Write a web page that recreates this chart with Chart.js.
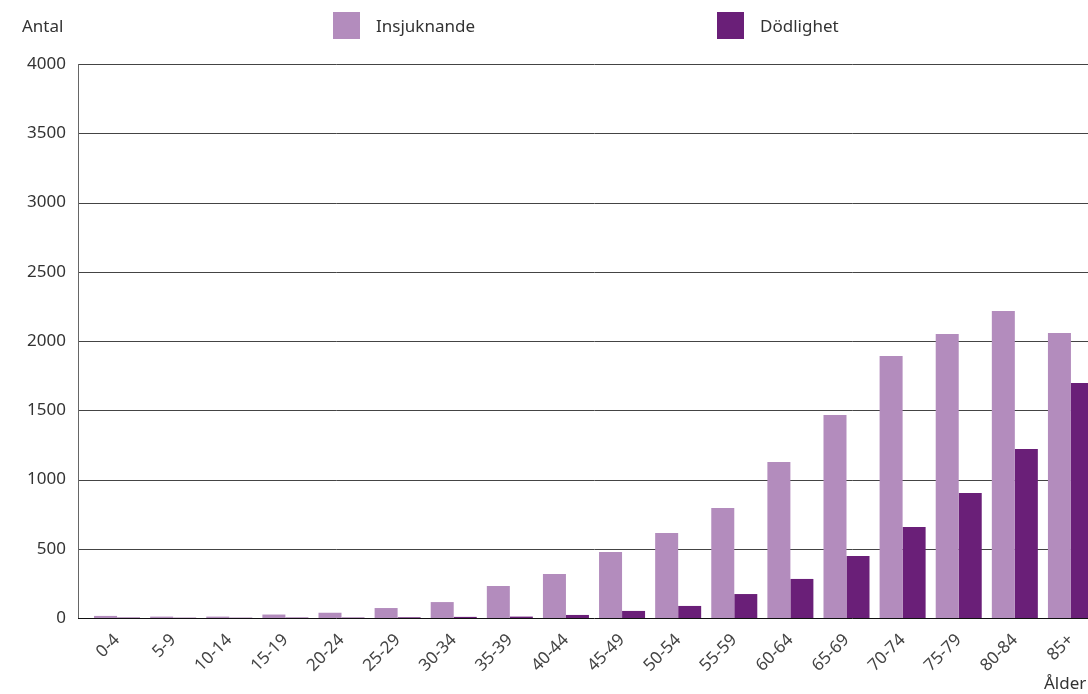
<!DOCTYPE html>
<html>
<head>
<meta charset="utf-8">
<script src="https://cdn.jsdelivr.net/npm/chart.js@4.4.1/dist/chart.umd.min.js"></script>
<style>
  html, body { margin: 0; padding: 0; background: #fff; overflow: hidden; }
  #wrap { position: relative; width: 1110px; height: 694px; }
  .txt { position: absolute; font-family: "Noto Sans", sans-serif; font-size: 17px; color: #333; white-space: nowrap; }
  .box { position: absolute; width: 27px; height: 27px; }
</style>
</head>
<body>
<div id="wrap">
  <canvas id="chart" width="1110" height="694"></canvas>
  <div class="txt" style="left:22px; top:14px;">Antal</div>
  <div class="box" style="left:333px; top:12px; background:#b38cbd;"></div>
  <div class="txt" style="left:376px; top:14px;">Insjuknande</div>
  <div class="box" style="left:717px; top:12px; background:#6a1f78;"></div>
  <div class="txt" style="left:760px; top:14px;">Dödlighet</div>
  <div class="txt" style="left:1044px; top:671px;">Ålder</div>
</div>
<script>
// age groups on the x axis
const ageGroups = ['0-4','5-9','10-14','15-19','20-24','25-29','30-34','35-39','40-44',
  '45-49','50-54','55-59','60-64','65-69','70-74','75-79','80-84','85+'];
// incidence per age group
const insjuknande = [15, 10, 10, 25, 38, 72, 115, 231, 318, 477, 614, 794, 1126, 1466, 1892, 2051, 2217, 2058];
// mortality per age group
const dodlighet = [3, 2, 2, 3, 3, 5, 8, 10, 22, 51, 87, 173, 282, 448, 657, 902, 1220, 1697];
const yTicks = [0, 500, 1000, 1500, 2000, 2500, 3000, 3500, 4000];

// grid lines reach a bit further left than the first bar group
const gridPlugin = {
  id: 'gridLines',
  beforeDatasetsDraw(chart) {
    const { ctx, chartArea, scales: { y } } = chart;
    const left = chartArea.left - 11;
    ctx.save();
    ctx.lineWidth = 1;
    yTicks.forEach(v => {
      const py = Math.round(y.getPixelForValue(v)) + 0.5;
      ctx.strokeStyle = v === 0 ? '#111' : '#444';
      ctx.beginPath();
      ctx.moveTo(left, py);
      ctx.lineTo(chartArea.right + 20, py);
      ctx.stroke();
    });
    ctx.strokeStyle = '#666';
    ctx.beginPath();
    ctx.moveTo(left + 0.5, y.getPixelForValue(4000));
    ctx.lineTo(left + 0.5, y.getPixelForValue(0));
    ctx.stroke();
    ctx.restore();
  }
};

new Chart(document.getElementById('chart'), {
  type: 'bar',
  data: {
    labels: ageGroups,
    datasets: [
      { label: 'Insjuknande', data: insjuknande, backgroundColor: '#b38cbd' },
      { label: 'Dödlighet', data: dodlighet, backgroundColor: '#6a1f78' }
    ]
  },
  options: {
    responsive: false,
    animation: false,
    layout: { padding: { top: 64, right: 11, left: 0, bottom: 0 } },
    datasets: { bar: { categoryPercentage: 0.82, barPercentage: 1.0 } },
    scales: {
      x: {
        grid: { display: false },
        border: { display: false },
        afterFit: s => { s.height = 76; },
        ticks: {
          maxRotation: 45, minRotation: 45,
          color: '#444', padding: 4,
          font: { family: 'Noto Sans', size: 17 }
        }
      },
      y: {
        min: 0, max: 4000,
        grid: { display: false, drawTicks: false },
        border: { display: false },
        afterFit: s => { s.width = 89; },
        ticks: {
          stepSize: 500, padding: 23, color: '#333',
          font: { family: 'Noto Sans', size: 17 },
          callback: v => String(v)
        }
      }
    },
    plugins: { legend: { display: false }, tooltip: { enabled: false } }
  },
  plugins: [gridPlugin]
});
</script>
</body>
</html>
